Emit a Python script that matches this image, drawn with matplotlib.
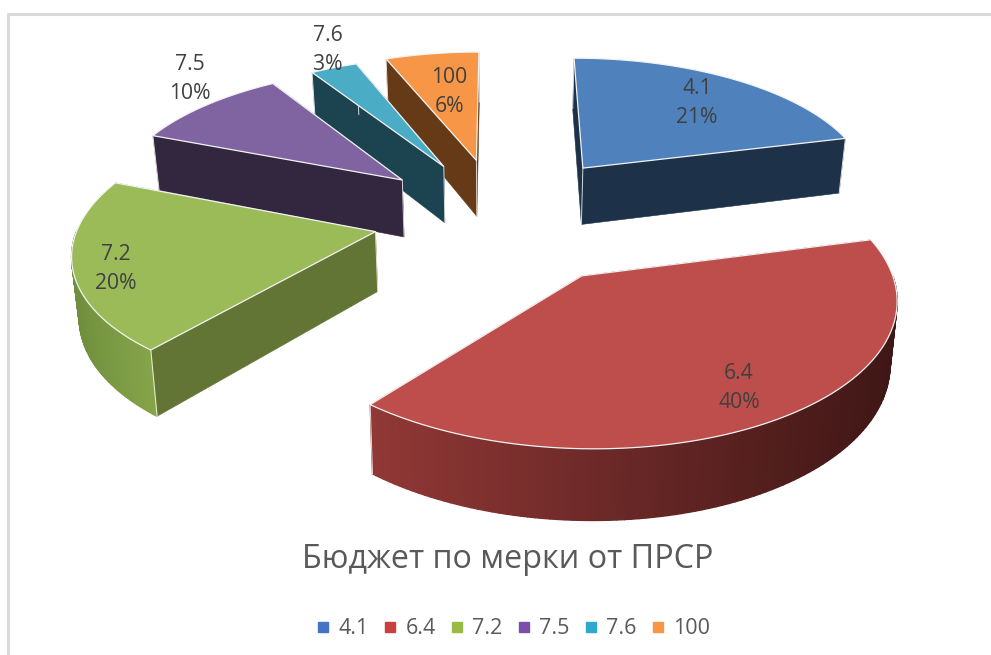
import numpy as np
from matplotlib import pyplot as plt
from matplotlib.colors import to_rgb
from matplotlib.lines import Line2D

categories = ["4.1", "6.4", "7.2", "7.5", "7.6", "100"]
shares = [21, 40, 20, 10, 3, 6]
title = "Бюджет по мерки от ПРСР"

# Styles per slice, same order as categories
top_colors = ["#4F81BD", "#BD4E4B", "#9BBB59", "#8064A2", "#4BACC6", "#F79646"]
legend_colors = ["#4472C4", "#C8413F", "#98BB45", "#7B4FA8", "#30A8CC", "#F79646"]
wall_colors = ["#1D3149", "#6B2A28", "#627534", "#33263F", "#1C4450", "#673A17"]
arc_left = ["#1D3149", "#913836", "#6F8F3E", "#33263F", "#1C4450", "#673A17"]
arc_right = ["#1D3149", "#3F1716", "#86A549", "#33263F", "#1C4450", "#673A17"]
explode = [0.48, 0.49, 0.43, 0.445, 0.44, 0.45]
label_xy = [(697, 103), (739, 388), (116, 269), (190, 79), (328, 50), (449, 92)]
draw_order = [5, 4, 3, 2, 0, 1]

# Projection of the pie plane onto the picture, in pixels
CX, CY = 500, 217
RX, RY = 295, 135
PERSPECTIVE = 0.125
DEPTH = 59
BOTTOM_SHRINK = 0.982


def project(u, v):
    s = 1 / (1 + PERSPECTIVE * v)
    return CX + RX * u * s, CY - RY * v * s, s


def lower(x, y, s):
    return CX + (x - CX) * BOTTOM_SHRINK, y + DEPTH * s


def quad(ax, x, y, s, i, j, color, width, z):
    bx, by = lower(x, y, s)
    ax.fill(
        [x[i], x[j], bx[j], bx[i]],
        [y[i], y[j], by[j], by[i]],
        facecolor=color,
        edgecolor=color,
        linewidth=width,
        zorder=z,
    )


def draw_slice(ax, start, end, exp, top, wall, left, right, z):
    mid = (start + end) / 2
    ou, ov = exp * np.sin(mid), exp * np.cos(mid)
    angles = np.linspace(start, end, 120)
    pts_u = np.concatenate([[ou], ou + np.sin(angles)])
    pts_v = np.concatenate([[ov], ov + np.cos(angles)])
    x, y, s = project(pts_u, pts_v)
    bx, by = lower(x, y, s)

    # Cut walls
    quad(ax, x, y, s, 0, 1, wall, 0.4, z)
    quad(ax, x, y, s, 0, len(x) - 1, wall, 0.4, z)

    # Outer wall, only the part facing the viewer, shaded left to right
    left_rgb, right_rgb = np.array(to_rgb(left)), np.array(to_rgb(right))
    xmin, xmax = x[1:].min(), x[1:].max()
    for i in range(1, len(x) - 1):
        if np.cos(angles[i - 1]) > 0:
            continue
        t = (x[i] - xmin) / max(xmax - xmin, 1)
        quad(ax, x, y, s, i, i + 1, tuple(left_rgb + (right_rgb - left_rgb) * t), 1.0, z + 0.1)

    # Corners
    for i in [0, 1, len(x) - 1]:
        ax.plot([x[i], bx[i]], [y[i], by[i]], color="white", linewidth=0.7, alpha=0.8, zorder=z + 0.2)

    ax.fill(x, y, facecolor=top, edgecolor="#F2F2F2", linewidth=0.9, zorder=z + 0.3)


def run() -> None:
    plt.rcParams["font.family"] = ["Open Sans", "DejaVu Sans"]
    fig = plt.figure(figsize=(9.91, 6.55), dpi=100)
    ax = fig.add_axes([0, 0, 1, 1])
    ax.set_xlim(0, 991)
    ax.set_ylim(655, 0)
    ax.axis("off")

    # Frame of the chart area
    ax.plot([8, 8, 991], [655, 14, 14], color="#D9D9D9", linewidth=2.2)

    edges = np.radians(np.cumsum([0] + shares) * 3.6)
    for z, i in enumerate(draw_order):
        draw_slice(
            ax,
            edges[i],
            edges[i + 1],
            explode[i],
            top_colors[i],
            wall_colors[i],
            arc_left[i],
            arc_right[i],
            z + 2,
        )

    for i, (lx, ly) in enumerate(label_xy):
        ax.text(
            lx,
            ly,
            f"{categories[i]}\n{shares[i]}%",
            ha="center",
            va="center",
            fontsize=15.2,
            color="#404040",
            linespacing=1.55,
            zorder=20,
        )

    ax.text(508, 559, title, ha="center", va="center", fontsize=23.3, color="#595959")

    handles = [
        Line2D([], [], linestyle="none", marker="s", markersize=6.5, color=c, label=n)
        for c, n in zip(legend_colors, categories)
    ]
    ax.legend(
        handles=handles,
        ncol=6,
        loc="center",
        bbox_to_anchor=(513, 629),
        bbox_transform=ax.transData,
        frameon=False,
        fontsize=15.5,
        labelcolor="#595959",
        handlelength=0.7,
        handletextpad=0.35,
        columnspacing=0.65,
    )

    fig.savefig("out.png", dpi=100)


if __name__ == "__main__":
    run()
